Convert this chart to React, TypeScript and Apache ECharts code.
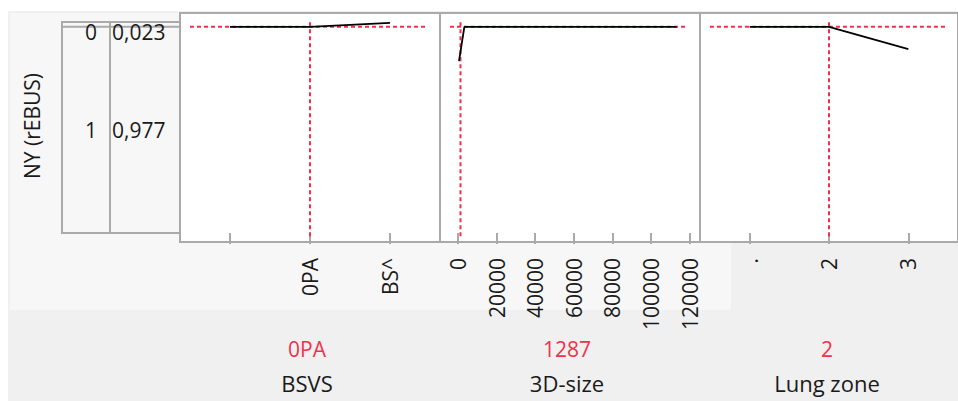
import React, { useEffect, useRef } from "react";
import * as echarts from "echarts";

// ---- data ----
const responseTitle = "NY (rEBUS)";
const responseLevels = ["0", "1"];
const levelProbs = [0.023, 0.977];
const levelProbLabels = ["0,023", "0,977"];

const factorNames = ["BSVS", "3D-size", "Lung zone"];
const currentLabels = ["0PA", "1287", "2"];

const bsvsCategories = ["", "0PA", "BS^"];
const bsvsValues = [0.977, 0.977, 0.996];
const bsvsCurrent = 1;

const sizeX = [520, 3300, 113300];
const sizeValues = [0.815, 0.977, 0.977];
const sizeCurrent = 1287;
const sizeTicks = [0, 20000, 40000, 60000, 80000, 100000, 120000];

const lungCategories = [".", "2", "3"];
const lungValues = [0.977, 0.977, 0.871];
const lungCurrent = 1;

const currentProb = 0.977;

// ---- layout ----
const FONT = "'Open Sans', 'Noto Sans', sans-serif";
const RED = "#f2304c";
const GRAY = "#aaaaaa";
const PANEL_TOP = 13;
const PANEL_H = 229;
const PANEL_W = 260;
const PANEL_LEFTS = [180, 440, 700];
const Y_MIN = -0.04265;
const Y_MAX = 1.04265;
const CAT_MIN = -0.625;
const CAT_MAX = 2.625;
const SIZE_MIN = -9326;
const SIZE_MAX = 125389;

const yPix = (p: number) => PANEL_TOP + ((Y_MAX - p) / (Y_MAX - Y_MIN)) * PANEL_H;

export default function App() {
  const ref = useRef<HTMLDivElement>(null);

  useEffect(() => {
    if (!ref.current) return;
    const chart = echarts.init(ref.current, undefined, { renderer: "svg" });

    const ranges = [
      [CAT_MIN, CAT_MAX],
      [SIZE_MIN, SIZE_MAX],
      [CAT_MIN, CAT_MAX],
    ];
    const hSpan = (i: number) => {
      const [a, b] = ranges[i];
      const u = (b - a) / PANEL_W;
      return [a + 10 * u, b - 13 * u];
    };

    const catAxis = (i: number, cats: string[]) => ({
      type: "value",
      gridIndex: i,
      min: CAT_MIN,
      max: CAT_MAX,
      axisLine: { show: false },
      splitLine: { show: false },
      axisTick: { show: true, length: 11, customValues: [0, 1, 2], lineStyle: { color: GRAY, width: 2 } },
      axisLabel: {
        show: true,
        customValues: [0, 1, 2],
        rotate: 90,
        margin: 16,
        fontSize: 21,
        fontFamily: FONT,
        color: "#1a1a1a",
        formatter: (v: number) => cats[Math.round(v)] ?? "",
      },
    });

    const xAxes = [
      catAxis(0, bsvsCategories),
      {
        type: "value",
        gridIndex: 1,
        min: SIZE_MIN,
        max: SIZE_MAX,
        axisLine: { show: false },
        splitLine: { show: false },
        axisTick: { show: true, length: 11, customValues: sizeTicks, lineStyle: { color: GRAY, width: 2 } },
        axisLabel: {
          show: true,
          customValues: sizeTicks,
          rotate: 90,
          margin: 16,
          fontSize: 21,
          fontFamily: FONT,
          color: "#1a1a1a",
          formatter: (v: number) => String(v),
        },
      },
      catAxis(2, lungCategories),
    ];

    const yAxes = [0, 1, 2].map((i) => ({
      type: "value",
      gridIndex: i,
      min: Y_MIN,
      max: Y_MAX,
      show: false,
    }));

    const grids = PANEL_LEFTS.map((l) => ({
      left: l,
      top: PANEL_TOP,
      width: PANEL_W,
      height: PANEL_H,
      show: true,
      backgroundColor: "#ffffff",
      borderColor: GRAY,
      borderWidth: 2,
      containLabel: false,
    }));

    const curves = [
      bsvsValues.map((v, k) => [k, v]),
      sizeX.map((x, k) => [x, sizeValues[k]]),
      lungValues.map((v, k) => [k, v]),
    ];
    const currents = [bsvsCurrent, sizeCurrent, lungCurrent];

    const series: any[] = [];
    for (let i = 0; i < 3; i++) {
      const [l, r] = hSpan(i);
      series.push({
        type: "line",
        xAxisIndex: i,
        yAxisIndex: i,
        data: [[l, currentProb], [r, currentProb]],
        symbol: "none",
        silent: true,
        lineStyle: { color: RED, width: 2, type: [4, 3] },
      });
      series.push({
        type: "line",
        xAxisIndex: i,
        yAxisIndex: i,
        data: [[currents[i], -0.015], [currents[i], 1.006]],
        symbol: "none",
        silent: true,
        lineStyle: { color: RED, width: 2, type: [4, 3] },
      });
      series.push({
        type: "line",
        xAxisIndex: i,
        yAxisIndex: i,
        data: curves[i],
        symbol: "none",
        silent: true,
        lineStyle: { color: "#000000", width: 1.8 },
      });
    }

    // table on the left
    const tTop = yPix(1);
    const tBot = yPix(0);
    const graphics: any[] = [
      { type: "rect", z: -10, shape: { x: 8, y: 11, width: 950, height: 390 }, style: { fill: "#f0f0f0" } },
      { type: "rect", z: -9, shape: { x: 10, y: 13, width: 721, height: 297 }, style: { fill: "#f7f7f7" } },
      { type: "rect", z: 5, shape: { x: 62, y: tTop, width: 118, height: tBot - tTop }, style: { fill: "none", stroke: GRAY, lineWidth: 2 } },
      { type: "line", z: 5, shape: { x1: 110, y1: tTop, x2: 110, y2: tBot }, style: { stroke: GRAY, lineWidth: 2 } },
      {
        type: "text",
        z: 5,
        x: 32,
        y: 126,
        rotation: Math.PI / 2,
        style: { text: responseTitle, fontSize: 21, fontFamily: FONT, fill: "#1a1a1a", align: "center", verticalAlign: "middle" },
      },
    ];
    // boundaries between levels and level labels
    let cum = 1;
    responseLevels.forEach((lev, k) => {
      const upper = cum;
      const lower = cum - levelProbs[k];
      cum = lower;
      if (k < responseLevels.length - 1) {
        graphics.push({ type: "line", z: 5, shape: { x1: 62, y1: yPix(lower), x2: 180, y2: yPix(lower) }, style: { stroke: GRAY, lineWidth: 2 } });
      }
      const yc = Math.max(yPix((upper + lower) / 2), tTop + 10);
      graphics.push({
        type: "text", z: 5, x: 97, y: yc,
        style: { text: lev, fontSize: 21, fontFamily: FONT, fill: "#1a1a1a", align: "right", verticalAlign: "middle" },
      });
      graphics.push({
        type: "text", z: 5, x: 112, y: yc,
        style: { text: levelProbLabels[k], fontSize: 21, fontFamily: FONT, fill: "#1a1a1a", align: "left", verticalAlign: "middle" },
      });
    });
    // bottom labels
    PANEL_LEFTS.forEach((l, i) => {
      const cx = l + PANEL_W / 2 - 3;
      graphics.push({
        type: "text", z: 5, x: cx, y: 349,
        style: { text: currentLabels[i], fontSize: 21, fontFamily: FONT, fill: RED, align: "center", verticalAlign: "middle" },
      });
      graphics.push({
        type: "text", z: 5, x: cx, y: 383,
        style: { text: factorNames[i], fontSize: 22, fontFamily: FONT, fill: "#1a1a1a", align: "center", verticalAlign: "middle" },
      });
    });

    chart.setOption({
      animation: false,
      backgroundColor: "#ffffff",
      grid: grids,
      xAxis: xAxes,
      yAxis: yAxes,
      series,
      graphic: graphics,
    });

    return () => chart.dispose();
  }, []);

  return <div ref={ref} style={{ position: "absolute", left: 0, top: 0, width: 958, height: 401 }} />;
}
